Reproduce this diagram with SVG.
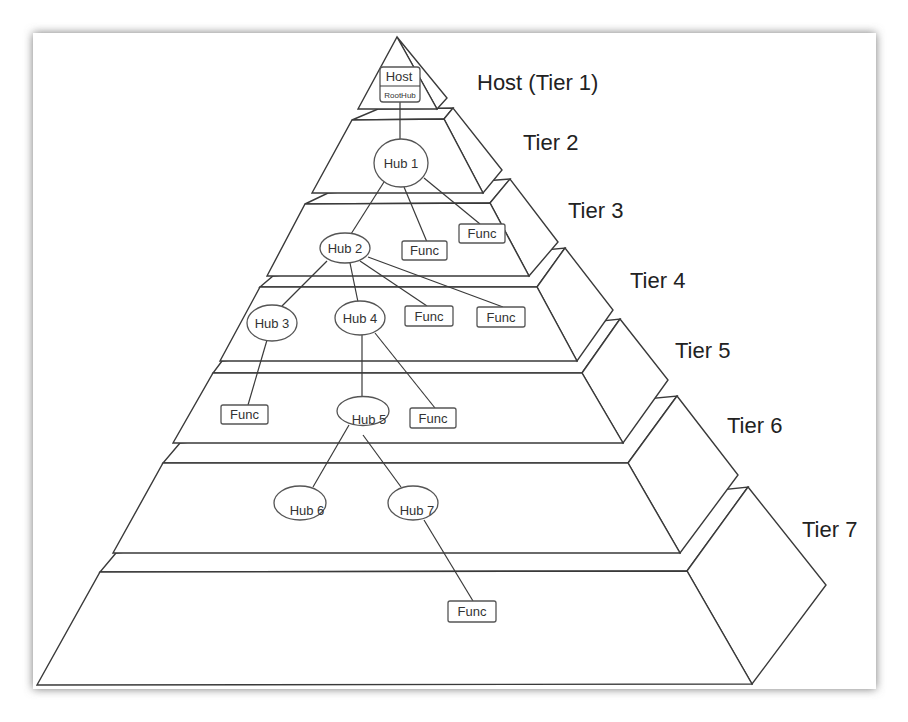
<svg xmlns="http://www.w3.org/2000/svg" width="908" height="722" viewBox="0 0 908 722">
<defs>
<filter id="sh" x="-5%" y="-5%" width="110%" height="110%"><feGaussianBlur stdDeviation="5"/></filter>
</defs>
<style>
.t{fill:#fff;stroke:#3a3a3a;stroke-width:1.4;stroke-linejoin:miter}
.c{stroke:#3a3a3a;stroke-width:1.2;fill:none}
.n{fill:#fff;stroke:#555;stroke-width:1.3}
.lbl{font-family:"Liberation Sans",Arial,sans-serif;font-size:22px;fill:#222}
.nt{font-family:"Liberation Sans",Arial,sans-serif;font-size:13px;fill:#333;text-anchor:middle}
</style>
<rect width="908" height="722" fill="#fff"/>
<rect x="33" y="33" width="843" height="656" fill="#777" filter="url(#sh)"/>
<rect x="33" y="33" width="843" height="656" fill="#fff"/>

<g id="tier7">
<polygon class="t" points="100,572 687,571 748,487 116,553"/>
<polygon class="t" points="687,571 748,487 826,585 752,684"/>
<polygon class="t" points="100,572 687,571 752,684 37,685"/>
</g>
<g id="tier6">
<polygon class="t" points="163,463 628,463 677,396 180,443"/>
<polygon class="t" points="628,463 677,396 738,475 680,553"/>
<polygon class="t" points="163,463 628,463 680,553 113,553"/>
</g>
<g id="tier5">
<polygon class="t" points="213,373 582,373 620,319 222,361"/>
<polygon class="t" points="582,373 620,319 668,380 623,443"/>
<polygon class="t" points="213,373 582,373 623,443 173,443"/>
</g>
<g id="tier4">
<polygon class="t" points="260,287 537,287 565,248 273,276"/>
<polygon class="t" points="537,287 565,248 613,310 577,361"/>
<polygon class="t" points="260,287 537,287 577,361 220,361"/>
</g>
<g id="tier3">
<polygon class="t" points="305,204 490,203 510,179 328,193"/>
<polygon class="t" points="490,203 510,179 558,242 529,276"/>
<polygon class="t" points="305,204 490,203 529,276 267,276"/>
</g>
<g id="tier2">
<polygon class="t" points="352,120 444,119 453,108 378,109"/>
<polygon class="t" points="444,119 453,108 502,170 483,193"/>
<polygon class="t" points="352,120 444,119 483,193 312,193"/>
</g>
<g id="tier1">
<polygon class="t" points="397,37 447,98 437,109"/>
<polygon class="t" points="397,37 437,109 358,109"/>
</g>

<g id="labels">
<text class="lbl" x="477" y="90">Host (Tier 1)</text>
<text class="lbl" x="523" y="150">Tier 2</text>
<text class="lbl" x="568" y="218">Tier 3</text>
<text class="lbl" x="630" y="288">Tier 4</text>
<text class="lbl" x="675" y="358">Tier 5</text>
<text class="lbl" x="727" y="433">Tier 6</text>
<text class="lbl" x="802" y="537">Tier 7</text>
</g>

<g id="connectors">
<line class="c" x1="400" y1="102" x2="400" y2="139"/>
<line class="c" x1="384" y1="182" x2="351" y2="234"/>
<line class="c" x1="404" y1="187" x2="427" y2="242"/>
<line class="c" x1="424" y1="178" x2="480" y2="224"/>
<line class="c" x1="327" y1="261" x2="282" y2="306"/>
<line class="c" x1="350" y1="263" x2="358" y2="302"/>
<line class="c" x1="360" y1="261" x2="427" y2="306"/>
<line class="c" x1="368" y1="257" x2="503" y2="307"/>
<line class="c" x1="267" y1="340" x2="248" y2="405"/>
<line class="c" x1="362" y1="335" x2="362" y2="397"/>
<line class="c" x1="375" y1="333" x2="435" y2="408"/>
<line class="c" x1="349" y1="425" x2="313" y2="487"/>
<line class="c" x1="363" y1="435" x2="401" y2="487"/>
<line class="c" x1="424" y1="520" x2="473" y2="601"/>
</g>

<g id="host">
<rect class="n" x="380" y="67" width="40" height="35" rx="3"/>
<line class="c" x1="380" y1="86" x2="420" y2="86"/>
<text class="nt" x="399" y="81" font-size="12">Host</text>
<text class="nt" x="400" y="98" style="font-size:8px">RootHub</text>
</g>
<g id="hub1"><ellipse class="n" cx="401" cy="163" rx="27" ry="24"/><text class="nt" x="401" y="168">Hub 1</text></g>
<g id="hub2"><ellipse class="n" cx="345" cy="248" rx="25" ry="15"/><text class="nt" x="345" y="252.5">Hub 2</text></g>
<g id="func3a"><rect class="n" x="402" y="241" width="45" height="19" rx="2"/><text class="nt" x="424.5" y="255">Func</text></g>
<g id="func3b"><rect class="n" x="459" y="224" width="46" height="19" rx="2"/><text class="nt" x="482" y="238">Func</text></g>
<g id="hub3"><ellipse class="n" cx="272" cy="323" rx="25" ry="18"/><text class="nt" x="272" y="328">Hub 3</text></g>
<g id="hub4"><ellipse class="n" cx="360" cy="318" rx="25" ry="17"/><text class="nt" x="360" y="323">Hub 4</text></g>
<g id="func4a"><rect class="n" x="405" y="306" width="48" height="20" rx="2"/><text class="nt" x="429" y="320.5">Func</text></g>
<g id="func4b"><rect class="n" x="477" y="307" width="48" height="20" rx="2"/><text class="nt" x="501" y="321.5">Func</text></g>
<g id="func5a"><rect class="n" x="221" y="405" width="47" height="19" rx="2"/><text class="nt" x="244.5" y="419">Func</text></g>
<g id="hub5"><ellipse class="n" cx="363" cy="411" rx="26" ry="14.5"/><text class="nt" x="369" y="424">Hub 5</text></g>
<g id="func5b"><rect class="n" x="410" y="408" width="46" height="20" rx="2"/><text class="nt" x="433" y="422.5">Func</text></g>
<g id="hub6"><ellipse class="n" cx="300" cy="503" rx="26" ry="17"/><text class="nt" x="307" y="515">Hub 6</text></g>
<g id="hub7"><ellipse class="n" cx="413" cy="503" rx="25" ry="17"/><text class="nt" x="417" y="515">Hub 7</text></g>
<g id="func7"><rect class="n" x="448" y="601" width="48" height="21" rx="2"/><text class="nt" x="472" y="616">Func</text></g>
</svg>
